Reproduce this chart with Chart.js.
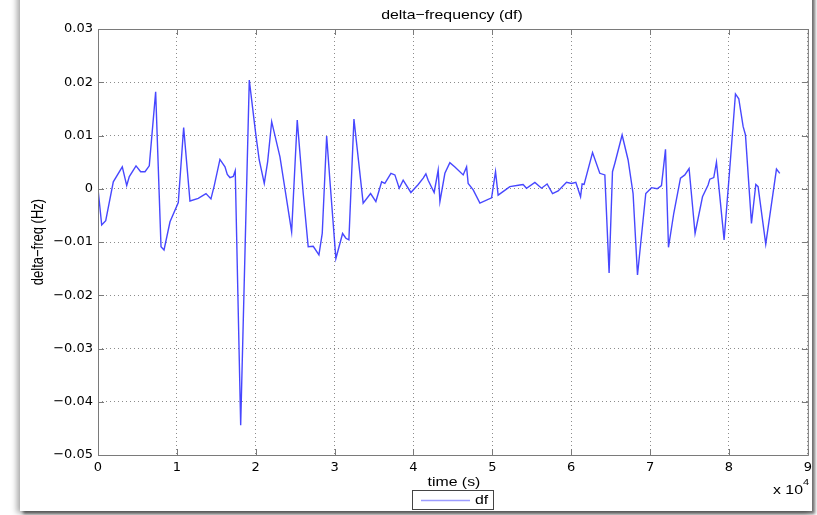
<!DOCTYPE html>
<html>
<head>
<meta charset="utf-8">
<script src="https://cdn.jsdelivr.net/npm/chart.js@4"></script>
<style>
    html, body { margin: 0; padding: 0; background: #fff; overflow: hidden; }
    #frame {
        position: absolute; left: 20px; top: -14px; width: 792px; height: 525px;
        background: #fff;
        box-shadow: -3px 2px 6px rgba(0, 0, 0, 0.35), 3px 3px 3px rgba(0, 0, 0, 0.55);
    }
    #chart { position: absolute; left: 0; top: 0; }
</style>
</head>
<body>
<div id="frame"></div>
<canvas id="chart" width="817" height="515"></canvas>
<script>
// time in seconds, frequency deviation in Hz
const timeSec = [
    0, 470, 980, 1940, 3080, 3640, 3970, 4820, 5410, 5960, 6500, 7310,
    7990, 8370, 9130, 10180, 10860, 11660, 12710, 13690, 14320, 14740, 15460, 16100,
    16390, 16730, 17150, 17400, 18090, 19180, 19990, 20440, 21080, 21510, 22020, 23070,
    23920, 24550, 25260, 26020, 26650, 27290, 28010, 28430, 28990, 29400, 30160, 31010,
    31430, 31810, 32450, 33620, 34560, 35230, 35960, 36370, 37140, 37640, 38190, 38690,
    39670, 40600, 41230, 41570, 41860, 42620, 43130, 43350, 43980, 44610, 45250, 46300,
    46730, 46930, 47570, 48420, 49900, 50400, 50730, 52220, 53480, 53900, 54330, 55390,
    56230, 56940, 57630, 58340, 59400, 60040, 60580, 61180, 61380, 61630, 62700, 63620,
    64260, 64800, 65230, 65530, 66450, 67210, 67840, 68400, 69450, 70180, 70890, 71440,
    71950, 72330, 73000, 73850, 74400, 74940, 75700, 76640, 77350, 77570, 78070, 78410,
    79380, 80100, 80820, 81240, 81790, 82090, 82850, 83400, 83690, 84660, 86020, 86440
];
const dfHz = [
    0, -0.0068, -0.006, 0.0013, 0.0041, 0.0006, 0.0023, 0.0043, 0.0032, 0.0032, 0.0043, 0.0182,
    -0.0109, -0.0115, -0.0062, -0.0026, 0.0115, -0.0023, -0.0018, -0.0009, -0.0019, 0.0006, 0.0055, 0.0041,
    0.0027, 0.0021, 0.0023, 0.0034, -0.0444, 0.0204, 0.0104, 0.0054, 0.001, 0.0051, 0.0126, 0.006,
    -0.0021, -0.0081, 0.0129, -0.0009, -0.0109, -0.0108, -0.0124, -0.0084, 0.0099, 0.0016, -0.0131, -0.0084,
    -0.0093, -0.0096, 0.0131, -0.0027, -0.0009, -0.0024, 0.0013, 0.001, 0.0029, 0.0026, 0.0001, 0.0016,
    -0.0007, 0.0008, 0.002, 0.0028, 0.0016, -0.0007, 0.0035, -0.0024, 0.0029, 0.0049, 0.0041, 0.0026,
    0.0041, 0.001, -0.0002, -0.0027, -0.0017, 0.0032, -0.0012, 0.0004, 0.0007, 0.0008, 0.0001, 0.0012,
    0.0001, 0.0009, -0.0009, -0.0004, 0.0012, 0.001, 0.0012, -0.0015, 0.0009, 0.0008, 0.0068, 0.0029,
    0.0026, -0.0158, 0.0032, 0.0048, 0.0101, 0.0054, -0.0009, -0.0162, -0.0009, 0.0002, 0, 0.0006,
    0.0074, -0.011, -0.0046, 0.002, 0.0026, 0.0038, -0.0084, -0.0015, 0.0007, 0.0018, 0.0021, 0.005,
    -0.0096, 0.0038, 0.0178, 0.0169, 0.0117, 0.0101, -0.0065, 0.0008, 0.0004, -0.0104, 0.0037, 0.0029
];
const xTicks = [0, 1, 2, 3, 4, 5, 6, 7, 8, 9];          // x 10^4 s
const yTicks = [-0.05, -0.04, -0.03, -0.02, -0.01, 0, 0.01, 0.02, 0.03];
const seriesName = 'df';
const chartTitle = 'delta\u2212frequency (df)';
const xTitle = 'time (s)';
const yTitle = 'delta\u2212freq (Hz)';

const FONT = '"Liberation Sans", Arial, sans-serif';
const TICK_FONT = '"DejaVu Sans", sans-serif';
const STRETCH = 1.22; // the original screenshot is a bit wider than tall
const lineBlue = 'rgba(45, 45, 255, 0.88)';

function wideText(ctx, text, x, y) {
    ctx.save();
    ctx.translate(x, y);
    ctx.scale(STRETCH, 1);
    ctx.fillText(text, 0, 0);
    ctx.restore();
}

// matlab style box, inner ticks, titles and legend
const matlabFrame = {
    id: 'matlabFrame',
    afterDraw(chart) {
        const { ctx, chartArea: a, scales: { x, y } } = chart;
        ctx.save();
        ctx.strokeStyle = '#7a7a7a';
        ctx.lineWidth = 1;
        ctx.strokeRect(a.left + 0.5, a.top + 0.5, a.right - a.left, a.bottom - a.top);

        ctx.beginPath();
        x.ticks.forEach(t => {
            const px = Math.round(x.getPixelForValue(t.value)) + 0.5;
            ctx.moveTo(px, a.bottom); ctx.lineTo(px, a.bottom - 6);
            ctx.moveTo(px, a.top); ctx.lineTo(px, a.top + 6);
        });
        y.ticks.forEach(t => {
            const py = Math.round(y.getPixelForValue(t.value)) + 0.5;
            ctx.moveTo(a.left, py); ctx.lineTo(a.left + 6, py);
            ctx.moveTo(a.right, py); ctx.lineTo(a.right - 6, py);
        });
        ctx.stroke();

        ctx.fillStyle = '#000';
        ctx.font = '13px ' + FONT;
        ctx.textAlign = 'center';
        ctx.textBaseline = 'middle';
        const cx = (a.left + a.right) / 2;
        wideText(ctx, chartTitle, cx - 1, 15);
        wideText(ctx, xTitle, cx + 1, 482);

        ctx.save();
        ctx.translate(39, (a.top + a.bottom) / 2);
        ctx.scale(STRETCH, 1);
        ctx.rotate(-Math.PI / 2);
        ctx.fillText(yTitle, 0, 0);
        ctx.restore();

        // exponent label
        ctx.textAlign = 'left';
        wideText(ctx, 'x 10', 773, 490);
        ctx.font = '9px ' + FONT;
        wideText(ctx, '4', 803, 483);

        // legend
        ctx.strokeStyle = '#444';
        ctx.strokeRect(412.5, 490.5, 81, 19);
        ctx.strokeStyle = 'rgba(90, 90, 255, 0.6)';
        ctx.lineWidth = 1.3;
        ctx.beginPath();
        ctx.moveTo(421, 500.5); ctx.lineTo(470, 500.5);
        ctx.stroke();
        ctx.font = '13px ' + FONT;
        wideText(ctx, seriesName, 475, 500);
        ctx.restore();
    }
};

const minus = v => String(v).replace('-', '\u2212');

new Chart(document.getElementById('chart'), {
    type: 'line',
    data: {
        datasets: [{
            label: seriesName,
            data: timeSec.map((t, i) => ({ x: t, y: dfHz[i] })),
            borderColor: lineBlue,
            borderWidth: 1.4,
            pointRadius: 0,
            tension: 0,
            fill: false
        }]
    },
    options: {
        responsive: false,
        animation: false,
        devicePixelRatio: 1,
        layout: { padding: { top: 29, right: 9, left: 0, bottom: 0 } },
        plugins: {
            legend: { display: false },
            tooltip: { enabled: false }
        },
        scales: {
            x: {
                type: 'linear',
                min: 0,
                max: 90000,
                afterFit: s => { s.height = 60; },
                afterBuildTicks: s => { s.ticks = xTicks.map(v => ({ value: v * 1e4 })); },
                ticks: {
                    color: '#000',
                    font: { family: TICK_FONT, size: 13 },
                    padding: 5,
                    maxRotation: 0,
                    callback: v => String(Math.round(v / 1e4))
                },
                grid: { color: '#8c8c8c', drawTicks: false, lineWidth: 1 },
                border: { display: false, dash: [1, 3] }
            },
            y: {
                min: -0.05,
                max: 0.03,
                afterFit: s => { s.width = 98; },
                afterBuildTicks: s => { s.ticks = yTicks.map(v => ({ value: v })); },
                ticks: {
                    color: '#000',
                    font: { family: TICK_FONT, size: 13 },
                    padding: 5,
                    callback: v => Math.abs(v) < 1e-9 ? '0' : minus(v.toFixed(2))
                },
                grid: { color: '#8c8c8c', drawTicks: false, lineWidth: 1 },
                border: { display: false, dash: [1, 3] }
            }
        }
    },
    plugins: [matlabFrame]
});
</script>
</body>
</html>
